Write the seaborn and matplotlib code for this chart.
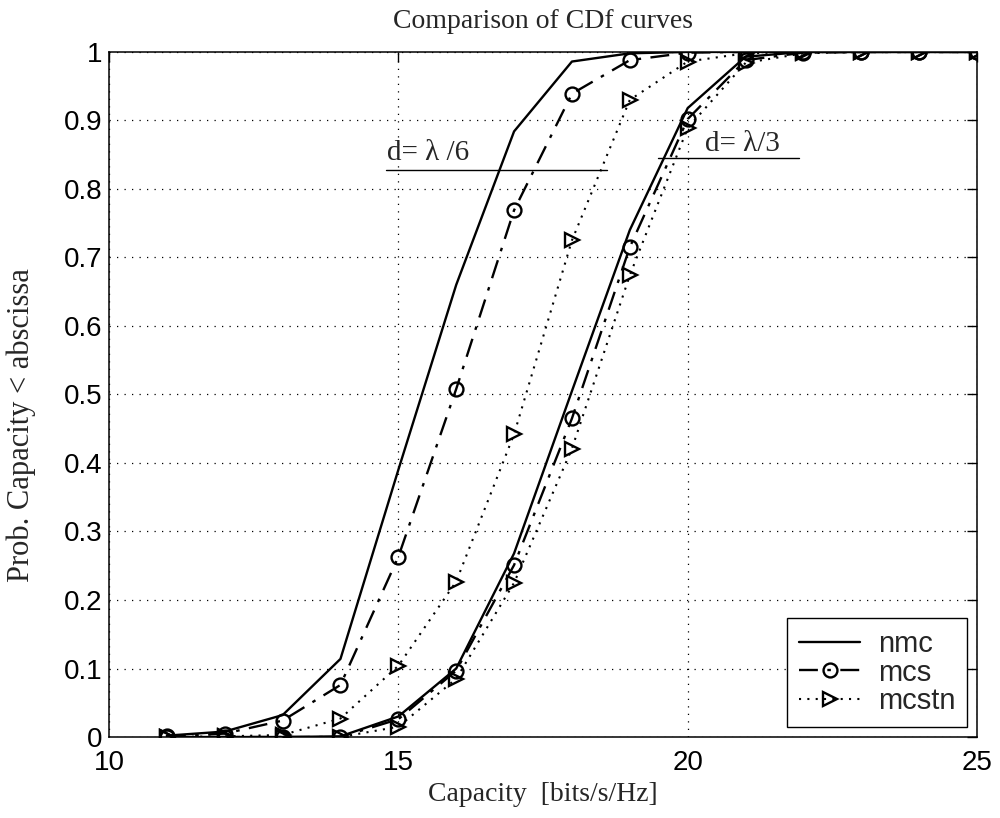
import numpy as np
import pandas as pd
import matplotlib
matplotlib.use("Agg")
import matplotlib.pyplot as plt
import seaborn as sns
from matplotlib.lines import Line2D

# ---- data ----
capacity = [11, 12, 13, 14, 15, 16, 17, 18, 19, 20, 21, 22, 23, 24, 25]
nmc_l6 = [0.002, 0.008, 0.032, 0.114, 0.39, 0.66, 0.884, 0.986, 0.998, 1, 1, 1, 1, 1, 1]
mcs_l6 = [0.001, 0.005, 0.024, 0.076, 0.263, 0.508, 0.769, 0.939, 0.988, 0.999, 1, 1, 1, 1, 1]
mcstn_l6 = [0.0, 0.001, 0.003, 0.027, 0.104, 0.227, 0.442, 0.725, 0.93, 0.986, 0.998, 1, 1, 1, 1]
nmc_l3 = [0, 0, 0, 0.001, 0.03, 0.1, 0.268, 0.505, 0.74, 0.918, 0.993, 1, 1, 1, 1]
mcs_l3 = [0, 0, 0, 0, 0.026, 0.097, 0.251, 0.465, 0.715, 0.902, 0.988, 0.999, 1, 1, 1]
mcstn_l3 = [0, 0, 0, 0, 0.015, 0.085, 0.225, 0.421, 0.674, 0.889, 0.984, 0.998, 1, 1, 1]
legend_labels = ["nmc", "mcs", "mcstn"]
x_ticks = [10, 15, 20, 25]
y_ticks = [0, 0.1, 0.2, 0.3, 0.4, 0.5, 0.6, 0.7, 0.8, 0.9, 1]
y_ticklabels = ["0", "0.1", "0.2", "0.3", "0.4", "0.5", "0.6", "0.7", "0.8", "0.9", "1"]
title = "Comparison of CDf curves"
xlabel = "Capacity  [bits/s/Hz]"
ylabel = "Prob. Capacity < abscissa"
ann6 = "d= \u03bb /6"
ann3 = "d= \u03bb/3"

sns.set_theme(style="white")
plt.rcParams["font.family"] = ["Liberation Sans", "DejaVu Sans"]
SERIF = ["Liberation Serif", "DejaVu Serif"]

fig = plt.figure(figsize=(10, 8.18), dpi=100)
ax = fig.add_axes([0.109, 0.099, 0.868, 0.8375])

DASHDOT = (0, (8, 4, 1.5, 4))
DOTTED = (0, (1, 3))
styles = {
    "nmc": dict(linestyle="-", marker=None, lw=1.7),
    "mcs": dict(linestyle=DASHDOT, marker="o", lw=1.7),
    "mcstn": dict(linestyle=DOTTED, marker=">", lw=1.5),
}
series = [("nmc", nmc_l6), ("mcs", mcs_l6), ("mcstn", mcstn_l6),
          ("nmc", nmc_l3), ("mcs", mcs_l3), ("mcstn", mcstn_l3)]
for name, vals in series:
    df = pd.DataFrame({"x": capacity, "y": vals})
    st = styles[name]
    sns.lineplot(data=df, x="x", y="y", ax=ax, color="black",
                 linewidth=st["lw"], linestyle=st["linestyle"], marker=st["marker"],
                 markersize=10, markerfacecolor="none",
                 markeredgecolor="black", markeredgewidth=1.7,
                 legend=False, zorder=3)

ax.set_xlim(10, 25)
ax.set_ylim(0, 1)
ax.set_xticks(x_ticks)
ax.set_yticks(y_ticks)
ax.set_xticklabels([str(t) for t in x_ticks])
ax.set_yticklabels(y_ticklabels)
ax.tick_params(axis="both", direction="in", length=7, width=1, labelsize=20,
               top=True, right=True, colors="black")
ax.tick_params(axis="y", pad=5)
ax.tick_params(axis="x", pad=9)
ax.grid(True, color="black", linestyle=(0, (1, 5)), linewidth=0.9)
for s in ax.spines.values():
    s.set_color("black")
    s.set_linewidth(1.1)

ax.set_title(title, family=SERIF, fontsize=20, pad=17)
ax.set_xlabel(xlabel, family=SERIF, fontsize=20, labelpad=5)
ax.set_ylabel(ylabel, family=SERIF, fontsize=22)
ax.yaxis.set_label_coords(-0.084, 0.455)

# annotations
ax.text(14.8, 0.842, ann6, family=SERIF, fontsize=21, ha="left", va="baseline")
ax.plot([14.78, 18.6], [0.828, 0.828], color="black", linewidth=1.0)
ax.text(20.3, 0.856, ann3, family=SERIF, fontsize=21, ha="left", va="baseline")
ax.plot([19.48, 21.93], [0.845, 0.845], color="black", linewidth=1.0)

handles = [
    Line2D([], [], color="black", linewidth=1.7, linestyle="-"),
    Line2D([], [], color="black", linewidth=1.7, linestyle=DASHDOT,
           marker="o", markersize=10, markerfacecolor="none", markeredgewidth=1.7),
    Line2D([], [], color="black", linewidth=1.5, linestyle=DOTTED,
           marker=">", markersize=10, markerfacecolor="none", markeredgewidth=1.7),
]
leg = ax.legend(handles, legend_labels, loc="lower right", fontsize=21,
                frameon=True, fancybox=False, edgecolor="black", framealpha=1,
                borderaxespad=0.35, handlelength=2.1, labelspacing=0.02,
                borderpad=0.4, handletextpad=0.6)
leg.get_frame().set_linewidth(1.0)

fig.savefig("out.png", dpi=100, facecolor="white")
